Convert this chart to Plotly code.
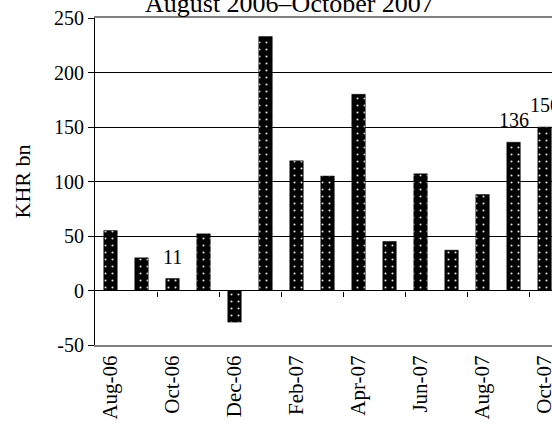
import plotly.graph_objects as go

categories = ["Aug-06", "Sep-06", "Oct-06", "Nov-06", "Dec-06", "Jan-07", "Feb-07",
              "Mar-07", "Apr-07", "May-07", "Jun-07", "Jul-07", "Aug-07", "Sep-07", "Oct-07"]
values = [55, 30, 11, 52, -29, 233, 119, 105, 180, 45, 107, 37, 88, 136, 150]
labelled = ["Oct-06", "Sep-07", "Oct-07"]
y_ticks = [-50, 0, 50, 100, 150, 200, 250]
y_tick_text = ["-50", "0", "50", "100", "150", "200", "250"]
title_text = "August 2006\u2013October 2007"

FONT = "Liberation Serif"
n = len(categories)
xr = [-0.5, n - 0.76]

fig = go.Figure()
fig.add_trace(go.Bar(
    x=list(range(n)), y=values,
    marker=dict(color="black", line=dict(color="black", width=0.5),
                pattern=dict(shape=".", bgcolor="black", fgcolor="#e0e0e0",
                             size=7, solidity=0.07, fillmode="replace")),
    showlegend=False, hoverinfo="skip",
))
# empty trace to host the zero-line tick axis
fig.add_trace(go.Scatter(x=[], y=[], xaxis="x2", showlegend=False))

for c in labelled:
    i = categories.index(c)
    fig.add_annotation(x=i, y=values[i], text=str(values[i]), showarrow=False,
                       yanchor="bottom", yshift=9,
                       font=dict(family=FONT, size=20, color="black"))

fig.add_annotation(xref="paper", yref="paper", x=(289.5 - 95) / 457, y=1,
                   yanchor="bottom", yshift=-2, text=title_text, showarrow=False,
                   font=dict(family=FONT, size=26, color="black"))

fig.update_layout(
    template="none",
    width=552, height=428,
    margin=dict(l=95, r=0, t=18, b=83, autoexpand=False),
    paper_bgcolor="white", plot_bgcolor="white",
    bargap=0.565,
    font=dict(family=FONT, color="black"),
    xaxis=dict(type="linear", range=xr, automargin=False,
               tickmode="array", tickvals=list(range(0, n, 2)),
               ticktext=categories[::2], tickangle=-90,
               ticklabeloverflow="allow",
               tickfont=dict(family=FONT, size=21),
               ticks="", showgrid=False, zeroline=False,
               showline=True, linecolor="#808080", linewidth=2, mirror=True),
    xaxis2=dict(type="linear", range=xr, overlaying="x", anchor="free",
                position=50 / 300, automargin=False,
                tickmode="array", tickvals=[i + 0.5 for i in range(1, n - 1, 2)],
                ticks="outside", ticklen=5, tickcolor="black", tickwidth=1,
                showticklabels=False, showgrid=False, zeroline=False, showline=False),
    yaxis=dict(range=[-50, 250], tickmode="array", tickvals=y_ticks,
               ticktext=y_tick_text, automargin=False,
               tickfont=dict(family=FONT, size=20),
               ticks="outside", ticklen=6, tickcolor="black",
               showgrid=True, gridcolor="black", gridwidth=1,
               zeroline=True, zerolinecolor="black", zerolinewidth=1,
               showline=True, linecolor="black", linewidth=1,
               title=dict(text="KHR bn", font=dict(family=FONT, size=22), standoff=17)),
)

fig.write_html("out.html", config={"displayModeBar": False},
               post_script="document.body.style.margin='0';document.body.style.overflow='hidden';")
